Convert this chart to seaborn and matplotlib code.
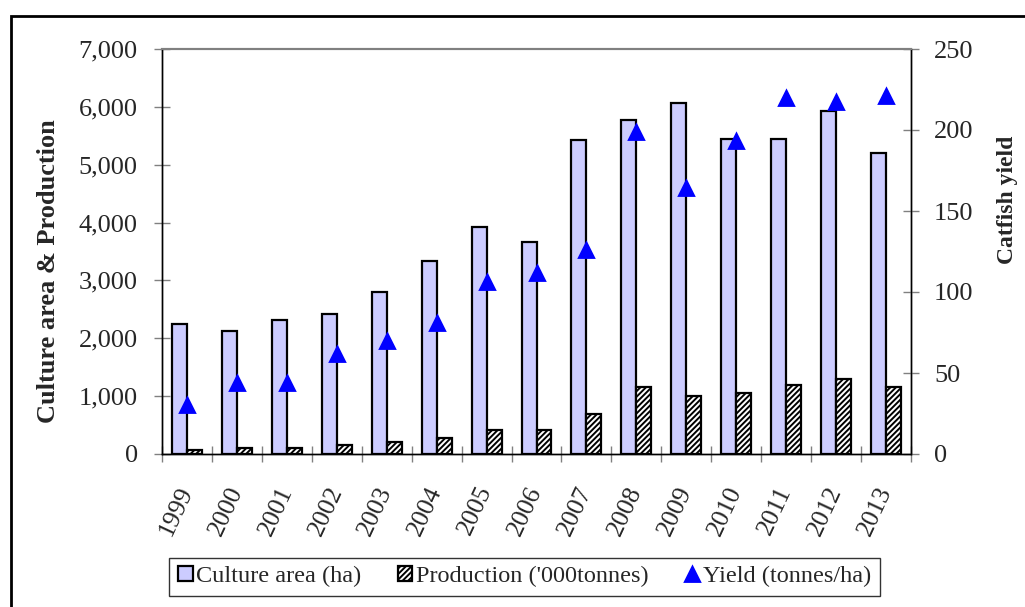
import numpy as np
import pandas as pd
import matplotlib
matplotlib.use("Agg")
import matplotlib.pyplot as plt
import seaborn as sns
from matplotlib.patches import Rectangle
from matplotlib.ticker import StrMethodFormatter

# dados
years = [str(y) for y in range(1999, 2014)]
culture_area = [2250, 2130, 2310, 2420, 2800, 3330, 3920, 3660,
                5430, 5770, 6060, 5450, 5440, 5920, 5200]
production = [70, 98, 109, 156, 202, 277, 420, 420,
              686, 1152, 997, 1054, 1198, 1291, 1152]
yield_ha = [30, 43.6, 43.6, 62, 70, 81, 106, 112,
            126, 199, 164, 193, 220, 217.5, 221]

lab_area = "Culture area (ha)"
lab_prod = "Production ('000tonnes)"
lab_yield = "Yield (tonnes/ha)"

df = pd.DataFrame({
    "year": years * 2,
    "serie": [lab_area] * len(years) + [lab_prod] * len(years),
    "valor": culture_area + production,
})

sns.set_style("white")
plt.rcParams["font.family"] = ["Liberation Serif", "DejaVu Serif"]
plt.rcParams["hatch.linewidth"] = 1.4

fig = plt.figure(figsize=(10.25, 6.07), dpi=100)
ax = fig.add_axes([162 / 1025, 1 - 454 / 607, 749 / 1025, 405 / 607])

sns.barplot(data=df, x="year", y="valor", hue="serie", ax=ax,
            palette=["#CCCCFF", "white"], width=0.6, edgecolor="black",
            linewidth=1.6, legend=False, saturation=1)
for bar in ax.containers[1]:
    bar.set_hatch("//////")
    bar.set_facecolor("white")

ax.set_ylim(0, 7000)
ax.set_xlim(-0.5, len(years) - 0.5)
ax.set_yticks(np.arange(0, 7001, 1000))
ax.yaxis.set_major_formatter(StrMethodFormatter("{x:,.0f}"))
ax.set_xlabel("")
ax.set_ylabel("Culture area & Production", fontsize=19, fontweight="bold")
ax.yaxis.set_label_coords(-0.136, 0.452)

ax2 = ax.twinx()
sns.pointplot(x=years, y=yield_ha, ax=ax2, color="blue", marker="^",
              linestyle="none", markersize=10.5, errorbar=None)
ax2.set_ylim(0, 250)
ax2.set_yticks(np.arange(0, 251, 50))
ax2.set_xlim(-0.5, len(years) - 0.5)
ax2.set_ylabel("Catfish yield", fontsize=17, fontweight="bold")
ax2.yaxis.set_label_coords(1.115, 0.627)

# ticks
ax.set_xticks(range(len(years)))
ax.set_xticklabels(years, rotation=65, ha="right", va="center",
                   rotation_mode="anchor", fontsize=18.5)
ax.set_xticks(np.arange(-0.5, len(years), 1), minor=True)
ax.tick_params(axis="x", which="major", length=0, pad=24)
ax.tick_params(axis="x", which="minor", direction="inout", length=11,
               color="gray", width=1, bottom=True)
ax.tick_params(axis="y", direction="inout", length=11, color="gray",
               width=1, labelsize=19, pad=12, left=True)
ax2.tick_params(axis="y", direction="inout", length=11, color="gray",
                width=1, labelsize=19, pad=11, right=True)

for a in (ax, ax2):
    for s in ("left", "right", "bottom"):
        a.spines[s].set_color("black")
        a.spines[s].set_linewidth(1)
    a.spines["top"].set_color("gray")
    a.spines["top"].set_linewidth(1.5)

# legenda
handles = [ax.containers[0][0], ax.containers[1][0], ax2.lines[0]]
leg = fig.legend(handles, [lab_area, lab_prod, lab_yield], loc="center",
                 bbox_to_anchor=(0.512, 0.05), ncol=3, fontsize=17.5,
                 frameon=True, fancybox=False, edgecolor="black",
                 handlelength=0.6, handleheight=0.6, handletextpad=0.15,
                 columnspacing=1.5, borderpad=0.35, shadow=False)
leg.get_frame().set_linewidth(1)

# moldura externa
fig.patches.append(Rectangle((11 / 1025, -0.1), 1.2, 1.1 - 16 / 607,
                             transform=fig.transFigure, fill=False,
                             edgecolor="black", linewidth=2))

fig.savefig("out.png", dpi=100)
